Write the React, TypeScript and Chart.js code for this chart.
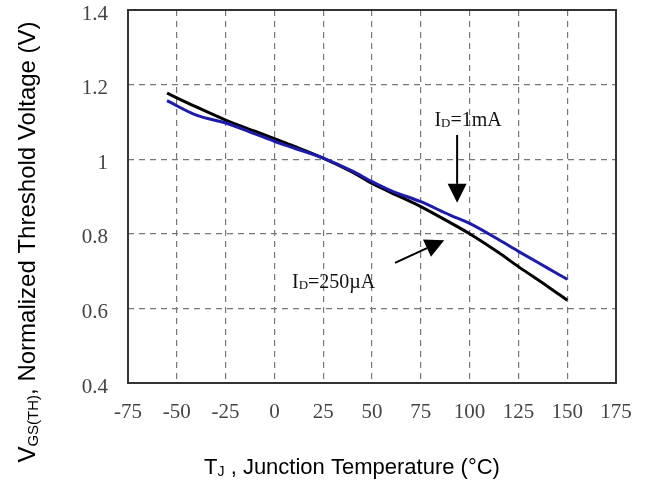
import React, { useEffect, useRef } from "react";
import { Chart, registerables } from "chart.js";
Chart.register(...registerables);

// Junction temperature (°C)
const temps = [-55, -40, -25, -10, 0, 10, 25, 40, 50, 60, 75, 90, 100, 115, 125, 140, 150];
// Normalized threshold voltage, ID = 250µA (black)
const vth250uA = [1.177, 1.14, 1.105, 1.075, 1.055, 1.035, 1.003, 0.965, 0.935, 0.91, 0.873, 0.83, 0.8, 0.749, 0.712, 0.659, 0.622];
// Normalized threshold voltage, ID = 1mA (blue)
const vth1mA = [1.157, 1.118, 1.097, 1.068, 1.048, 1.03, 1.003, 0.968, 0.94, 0.915, 0.886, 0.85, 0.828, 0.784, 0.753, 0.708, 0.678];

const xTickValues = [-75, -50, -25, 0, 25, 50, 75, 100, 125, 150, 175];
const yTickValues = [0.4, 0.6, 0.8, 1, 1.2, 1.4];

const seriesLabels = ["ID=1mA", "ID=250µA"];

type Seg = { text: string; size: number; family: string; dy?: number };

function drawRich(ctx: CanvasRenderingContext2D, segs: Seg[], x: number, y: number, align: "left" | "center") {
  let w = 0;
  for (const s of segs) {
    ctx.font = `${s.size}px ${s.family}`;
    w += ctx.measureText(s.text).width;
  }
  let cx = align === "center" ? x - w / 2 : x;
  ctx.textAlign = "left";
  ctx.textBaseline = "alphabetic";
  for (const s of segs) {
    ctx.font = `${s.size}px ${s.family}`;
    ctx.fillText(s.text, cx, y + (s.dy || 0));
    cx += ctx.measureText(s.text).width;
  }
}

function drawArrow(ctx: CanvasRenderingContext2D, x1: number, y1: number, x2: number, y2: number) {
  const ang = Math.atan2(y2 - y1, x2 - x1);
  const headLen = 19;
  const headHalf = 9.5;
  const bx = x2 - headLen * Math.cos(ang);
  const by = y2 - headLen * Math.sin(ang);
  ctx.strokeStyle = "#000";
  ctx.lineWidth = 2;
  ctx.beginPath();
  ctx.moveTo(x1, y1);
  ctx.lineTo(bx, by);
  ctx.stroke();
  ctx.fillStyle = "#000";
  ctx.beginPath();
  ctx.moveTo(x2, y2);
  ctx.lineTo(bx + headHalf * Math.sin(ang), by - headHalf * Math.cos(ang));
  ctx.lineTo(bx - headHalf * Math.sin(ang), by + headHalf * Math.cos(ang));
  ctx.closePath();
  ctx.fill();
}

const SERIF = '"Liberation Serif", "Times New Roman", serif';
const SANS = '"Liberation Sans", Arial, sans-serif';

const overlayPlugin = {
  id: "overlay",
  afterDraw(chart: any) {
    const { ctx, chartArea: a, scales } = chart;
    const xs = scales.x;
    const ys = scales.y;
    ctx.save();
    // frame
    ctx.strokeStyle = "#333";
    ctx.lineWidth = 2;
    ctx.strokeRect(a.left, a.top, a.right - a.left, a.bottom - a.top);

    // annotations
    ctx.fillStyle = "#111";
    drawRich(
      ctx,
      [
        { text: "I", size: 20, family: SERIF },
        { text: "D", size: 13, family: SERIF, dy: 1 },
        { text: "=1mA", size: 20, family: SERIF },
      ],
      xs.getPixelForValue(82),
      ys.getPixelForValue(1.09),
      "left"
    );
    drawRich(
      ctx,
      [
        { text: "I", size: 20, family: SERIF },
        { text: "D", size: 13, family: SERIF, dy: 1 },
        { text: "=250µA", size: 20, family: SERIF },
      ],
      xs.getPixelForValue(9),
      ys.getPixelForValue(0.655),
      "left"
    );
    drawArrow(ctx, xs.getPixelForValue(93.6), ys.getPixelForValue(1.065), xs.getPixelForValue(93.6), ys.getPixelForValue(0.883));
    drawArrow(ctx, xs.getPixelForValue(61.8), ys.getPixelForValue(0.722), xs.getPixelForValue(87), ys.getPixelForValue(0.783));

    // x axis title
    ctx.fillStyle = "#000";
    drawRich(
      ctx,
      [
        { text: "T", size: 22, family: SANS },
        { text: "J", size: 14, family: SANS, dy: 2 },
        { text: " , Junction Temperature (°C)", size: 22, family: SANS },
      ],
      352,
      474,
      "center"
    );

    // y axis title
    ctx.translate(27, 242);
    ctx.rotate(-Math.PI / 2);
    drawRich(
      ctx,
      [
        { text: "V", size: 24, family: SANS },
        { text: "GS(TH)", size: 15, family: SANS, dy: 3 },
        { text: ", Normalized Threshold Voltage (V)", size: 24, family: SANS },
      ],
      0,
      8,
      "center"
    );
    ctx.restore();
  },
};

export default function App() {
  const ref = useRef<HTMLCanvasElement | null>(null);
  useEffect(() => {
    if (!ref.current) return;
    const chart = new Chart(ref.current, {
      type: "line",
      data: {
        datasets: [
          {
            label: seriesLabels[0],
            data: temps.map((t, i) => ({ x: t, y: vth1mA[i] })),
            borderColor: "#1c1cab",
            borderWidth: 3,
            pointRadius: 0,
            cubicInterpolationMode: "monotone",
            order: 0,
          },
          {
            label: seriesLabels[1],
            data: temps.map((t, i) => ({ x: t, y: vth250uA[i] })),
            borderColor: "#000",
            borderWidth: 3,
            pointRadius: 0,
            cubicInterpolationMode: "monotone",
            order: 1,
          },
        ],
      },
      options: {
        animation: false,
        responsive: false,
        maintainAspectRatio: false,
        layout: { padding: { top: 10, right: 33, left: 0, bottom: 0 } },
        plugins: { legend: { display: false }, tooltip: { enabled: false } },
        scales: {
          x: {
            type: "linear",
            min: -75,
            max: 175,
            afterFit: (s: any) => {
              s.height = 99;
              s.paddingLeft = 0;
              s.paddingRight = 0;
              s.paddingTop = 0;
              s.paddingBottom = 0;
            },
            afterBuildTicks: (s: any) => {
              s.ticks = xTickValues.map((v) => ({ value: v }));
            },
            ticks: {
              autoSkip: false,
              maxRotation: 0,
              padding: 17,
              color: "#444",
              font: { family: SERIF, size: 21 },
              callback: (v: any) => String(v),
            },
            grid: { color: "#777", lineWidth: 1.2, drawTicks: false },
            border: { display: false, dash: [6, 5] },
          },
          y: {
            type: "linear",
            min: 0.4,
            max: 1.4,
            afterFit: (s: any) => {
              s.width = 128;
              s.paddingLeft = 0;
              s.paddingRight = 0;
              s.paddingTop = 0;
              s.paddingBottom = 0;
            },
            afterBuildTicks: (s: any) => {
              s.ticks = yTickValues.map((v) => ({ value: v }));
            },
            ticks: {
              autoSkip: false,
              padding: 20,
              labelOffset: 4,
              color: "#444",
              font: { family: SERIF, size: 21 },
              callback: (v: any) => String(Number(Number(v).toFixed(1))),
            },
            grid: { color: "#777", lineWidth: 1.2, drawTicks: false },
            border: { display: false, dash: [6, 5] },
          },
        },
      },
      plugins: [overlayPlugin],
    });
    return () => chart.destroy();
  }, []);
  return (
    <div style={{ position: "absolute", left: 0, top: 0, width: 649, height: 482, background: "#fff" }}>
      <canvas ref={ref} width={649} height={482} style={{ display: "block" }} />
    </div>
  );
}
